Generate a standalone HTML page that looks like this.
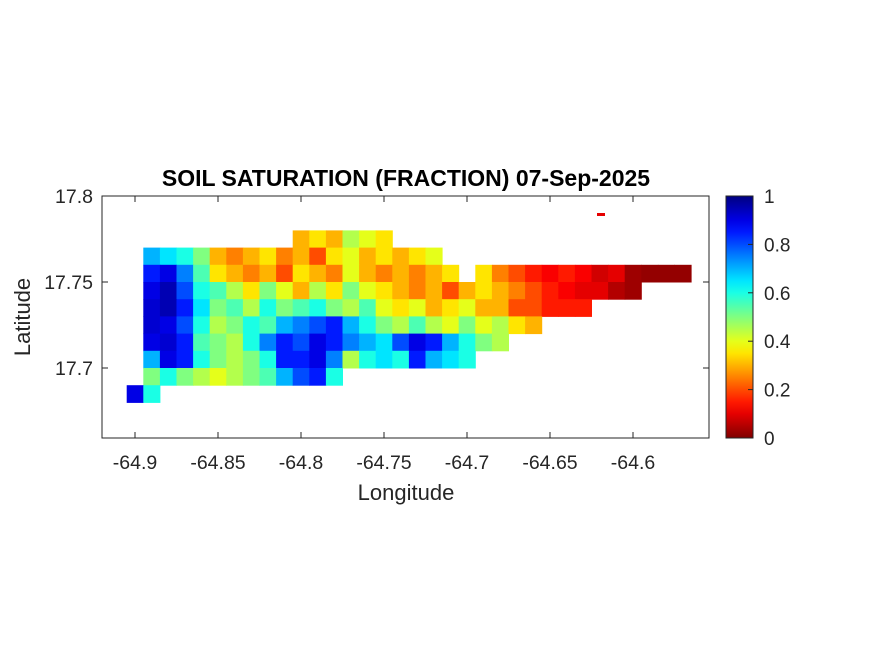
<!DOCTYPE html>
<html><head><meta charset="utf-8"><style>
body{margin:0;background:#fff;width:875px;height:656px;overflow:hidden;font-family:"Liberation Sans",Arial,sans-serif}
</style></head><body>
<svg id="chart" width="875" height="656" xmlns="http://www.w3.org/2000/svg">
<g id="cells"></g>
<rect x="102" y="196" width="607" height="242" fill="none" stroke="#262626" stroke-width="1"/>
<g id="axes"></g>
<text x="406" y="186" text-anchor="middle" font-size="23" font-weight="bold" fill="#000">SOIL SATURATION (FRACTION) 07-Sep-2025</text>
<text x="406" y="500" text-anchor="middle" font-size="22" fill="#262626">Longitude</text>
<text transform="translate(30,317) rotate(-90)" text-anchor="middle" font-size="22" fill="#262626">Latitude</text>
<defs><linearGradient id="jet" x1="0" y1="1" x2="0" y2="0"></linearGradient></defs>
<rect x="726" y="196" width="27" height="242" fill="url(#jet)" stroke="#262626" stroke-width="1"/>
<g id="cbar"></g>
</svg>
<script>
const lonTicks=[-64.9,-64.85,-64.8,-64.75,-64.7,-64.65,-64.6];
const latTicks=[17.7,17.75,17.8];
const cbTicks=[0,0.2,0.4,0.6,0.8,1];
const lonStart=-64.905, latTop=17.78, cellDeg=0.01;
// rows of soil saturation (north to south), null = outside island; columns start at lon -64.905
const row0=[null,null,null,null,null,null,null,null,null,null,0.3,0.35,0.3,0.45,0.4,0.35];
const row1=[null,0.7,0.65,0.6,0.5,0.3,0.25,0.3,0.35,0.25,0.3,0.2,0.35,0.4,0.3,0.35,0.3,0.35,0.4];
const row2=[null,0.85,0.9,0.75,0.55,0.35,0.3,0.25,0.3,0.2,0.35,0.3,0.25,0.4,0.3,0.25,0.3,0.25,0.3,0.35,null,0.35,0.25,0.2,0.15,0.12,0.15,0.12,0.08,0.1,0.03,0.02,0.02,0.02];
const row3=[null,0.9,0.95,0.8,0.6,0.55,0.45,0.35,0.5,0.4,0.3,0.45,0.35,0.5,0.4,0.35,0.3,0.25,0.3,0.2,0.3,0.35,0.3,0.25,0.2,0.15,0.12,0.1,0.1,0.05,0.03];
const row4=[null,0.92,0.95,0.85,0.65,0.5,0.55,0.45,0.6,0.5,0.55,0.6,0.5,0.45,0.55,0.4,0.35,0.4,0.3,0.35,0.4,0.3,0.3,0.2,0.2,0.15,0.15,0.15];
const row5=[null,0.92,0.9,0.8,0.6,0.45,0.5,0.6,0.55,0.7,0.75,0.8,0.85,0.7,0.6,0.5,0.45,0.55,0.45,0.4,0.5,0.4,0.45,0.35,0.3];
const row6=[null,0.9,0.92,0.85,0.55,0.5,0.45,0.6,0.75,0.85,0.8,0.9,0.85,0.75,0.7,0.65,0.8,0.9,0.85,0.7,0.6,0.5,0.45];
const row7=[null,0.7,0.9,0.85,0.6,0.5,0.45,0.5,0.6,0.85,0.85,0.9,0.75,0.45,0.6,0.65,0.6,0.85,0.7,0.65,0.6];
const row8=[null,0.5,0.6,0.5,0.45,0.4,0.45,0.5,0.55,0.7,0.8,0.85,0.6];
const row9=[0.9,0.6];
const rows=[row0,row1,row2,row3,row4,row5,row6,row7,row8,row9];

const xOf=lon=>135+(lon+64.9)*1660;
const yOf=lat=>368-(lat-17.7)*1720;
// reversed jet: 0 = dark red, 1 = dark blue
function cmap(v){v=1-Math.max(0,Math.min(1,v));
 const r=Math.max(0,Math.min(1,1.5-Math.abs(4*v-3))),g=Math.max(0,Math.min(1,1.5-Math.abs(4*v-2))),b=Math.max(0,Math.min(1,1.5-Math.abs(4*v-1)));
 return `rgb(${Math.round(r*255)},${Math.round(g*255)},${Math.round(b*255)})`;}
const NS="http://www.w3.org/2000/svg";
function mk(t,a,p){const e=document.createElementNS(NS,t);for(const k in a)e.setAttribute(k,a[k]);p.appendChild(e);return e;}
const cells=document.getElementById('cells');
rows.forEach((row,ri)=>row.forEach((v,ci)=>{if(v===null)return;
 const x0=xOf(lonStart+ci*cellDeg),x1=xOf(lonStart+(ci+1)*cellDeg),y0=yOf(latTop-ri*cellDeg),y1=yOf(latTop-(ri+1)*cellDeg);
 const r=mk('rect',{x:x0,y:y0,width:x1-x0+0.5,height:y1-y0+0.5,fill:cmap(v)},cells);
 
 }));
const dot=mk('rect',{x:597,y:213,width:8,height:3,fill:cmap(0.1)},cells);


const ax=document.getElementById('axes');
lonTicks.forEach(t=>{const x=xOf(t);
 const l=mk('line',{x1:x,x2:x,y1:438,y2:432,stroke:'#262626'},ax);
 
 
 const l2=mk('line',{x1:x,x2:x,y1:196,y2:202,stroke:'#262626'},ax);
 
 
 const tx=mk('text',{x:x,y:469,'text-anchor':'middle','font-size':19.5,fill:'#262626'},ax);tx.textContent=String(t);
 
 });
latTicks.forEach(t=>{const y=yOf(t);
 const l=mk('line',{x1:102,x2:108,y1:y,y2:y,stroke:'#262626'},ax);
 
 
 const l2=mk('line',{x1:709,x2:703,y1:y,y2:y,stroke:'#262626'},ax);
 
 
 const tx=mk('text',{x:93,y:y+7,'text-anchor':'end','font-size':19.5,fill:'#262626'},ax);tx.textContent=String(t);
 
 });
const grad=document.getElementById('jet');
for(let i=0;i<=20;i++){mk('stop',{offset:(i/20),'stop-color':cmap(i/20)},grad);}
const cb=document.getElementById('cbar');
cbTicks.forEach(t=>{const y=438-t*242;
 const l=mk('line',{x1:753,x2:748,y1:y,y2:y,stroke:'#262626'},cb);
 
 
 const tx=mk('text',{x:764,y:y+7,'font-size':19,fill:'#262626'},cb);tx.textContent=String(t);
 
 });
</script>
</body></html>
